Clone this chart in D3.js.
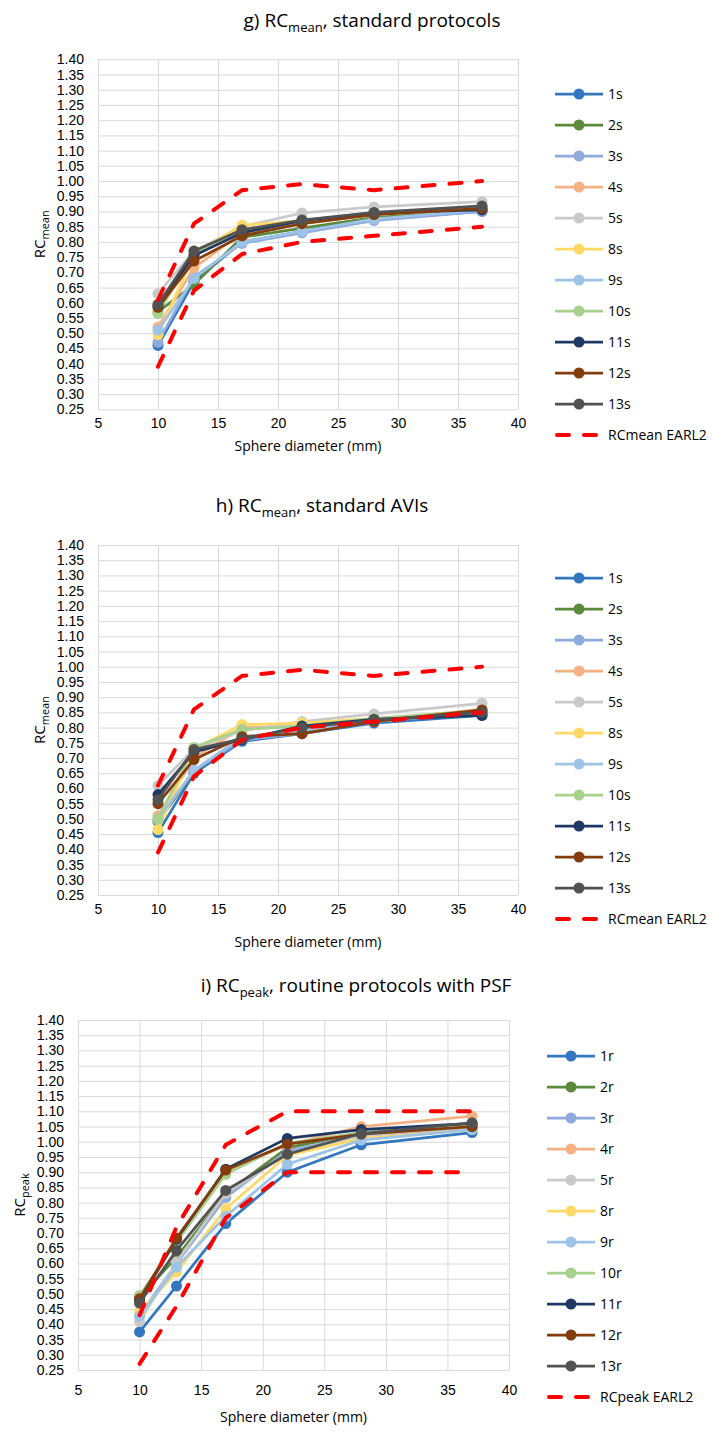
<!DOCTYPE html>
<html>
<head>
<meta charset="utf-8">
<script src="https://cdn.jsdelivr.net/npm/d3@7"></script>
<style>
  body { margin: 0; background: #fff; }
  svg { display: block; font-family: "Open Sans", "Noto Sans", sans-serif; }
  .grid line { stroke: #d9d9d9; stroke-width: 1; }
  .grid path { display: none; }
  .ticks path, .ticks line { display: none; }
  .ticks text { font-size: 14px; fill: #000; }
</style>
</head>
<body>
<div id="canvas-wrapper"></div>
<script>
// sphere diameters (mm) and axis ticks
var diameters = [10, 13, 17, 22, 28, 37];
var xTicks = [5, 10, 15, 20, 25, 30, 35, 40];
var yTicks = [0.25, 0.30, 0.35, 0.40, 0.45, 0.50, 0.55, 0.60, 0.65, 0.70, 0.75, 0.80,
              0.85, 0.90, 0.95, 1.00, 1.05, 1.10, 1.15, 1.20, 1.25, 1.30, 1.35, 1.40];

var standardNames = ["1s", "2s", "3s", "4s", "5s", "8s", "9s", "10s", "11s", "12s", "13s"];
var routineNames  = ["1r", "2r", "3r", "4r", "5r", "8r", "9r", "10r", "11r", "12r", "13r"];
var seriesColors = ["#3277c0", "#5b8a3a", "#8faadc", "#f4b183", "#c9c9c9", "#ffd966",
                    "#9dc3e6", "#a9d18e", "#203864", "#843c0c", "#525252"];

// g) RCmean, standard protocols
var rcMeanProtocols = [
  [0.46, 0.67, 0.80, 0.835, 0.875, 0.90],
  [0.57, 0.66, 0.815, 0.845, 0.88, 0.905],
  [0.47, 0.685, 0.795, 0.83, 0.87, 0.90],
  [0.52, 0.715, 0.83, 0.86, 0.89, 0.91],
  [0.63, 0.77, 0.85, 0.895, 0.915, 0.932],
  [0.495, 0.76, 0.855, 0.87, 0.89, 0.915],
  [0.51, 0.68, 0.80, 0.835, 0.875, 0.905],
  [0.565, 0.765, 0.835, 0.865, 0.89, 0.915],
  [0.59, 0.755, 0.83, 0.87, 0.895, 0.905],
  [0.585, 0.737, 0.82, 0.86, 0.89, 0.91],
  [0.595, 0.77, 0.84, 0.872, 0.897, 0.918]
];

// h) RCmean, standard AVIs
var rcMeanAvis = [
  [0.455, 0.65, 0.755, 0.78, 0.815, 0.84],
  [0.49, 0.655, 0.77, 0.79, 0.825, 0.85],
  [0.495, 0.658, 0.76, 0.78, 0.82, 0.85],
  [0.51, 0.70, 0.80, 0.805, 0.825, 0.86],
  [0.61, 0.73, 0.79, 0.82, 0.845, 0.88],
  [0.465, 0.73, 0.81, 0.815, 0.83, 0.855],
  [0.50, 0.66, 0.77, 0.79, 0.82, 0.85],
  [0.50, 0.735, 0.794, 0.805, 0.83, 0.855],
  [0.58, 0.72, 0.76, 0.805, 0.827, 0.84],
  [0.55, 0.695, 0.77, 0.78, 0.82, 0.858],
  [0.563, 0.728, 0.763, 0.80, 0.825, 0.85]
];

// i) RCpeak, routine protocols with PSF
var rcPeakRoutine = [
  [0.375, 0.526, 0.731, 0.90, 0.99, 1.03],
  [0.49, 0.62, 0.83, 0.98, 1.03, 1.05],
  [0.43, 0.60, 0.817, 0.97, 1.02, 1.045],
  [0.47, 0.68, 0.90, 0.99, 1.05, 1.084],
  [0.41, 0.605, 0.83, 0.96, 1.02, 1.05],
  [0.44, 0.572, 0.78, 0.955, 1.01, 1.04],
  [0.427, 0.588, 0.755, 0.926, 1.005, 1.04],
  [0.495, 0.67, 0.893, 0.995, 1.03, 1.055],
  [0.48, 0.68, 0.91, 1.011, 1.04, 1.06],
  [0.484, 0.684, 0.907, 0.992, 1.025, 1.05],
  [0.47, 0.643, 0.84, 0.959, 1.027, 1.062]
];

// EARL2 limits
var earlMeanLow  = [0.39, 0.64, 0.76, 0.80, 0.82, 0.85];
var earlMeanHigh = [0.61, 0.86, 0.97, 0.99, 0.97, 1.00];
var earlPeakLow  = [0.27, 0.46, 0.75, 0.90, 0.90, 0.90];
var earlPeakHigh = [0.43, 0.72, 0.99, 1.10, 1.10, 1.10];

var svg = d3.select("#canvas-wrapper").append("svg")
    .attr("width", 713)
    .attr("height", 1432);

var panels = [
  { title: ["g) RC", "mean", ", standard protocols"], sub: "mean", names: standardNames,
    values: rcMeanProtocols, low: earlMeanLow, high: earlMeanHigh, earl: "RCmean EARL2",
    left: 98, right: 518, top: 59.3, bottom: 409.3, titleX: 372, titleY: 27, yTitleX: 45,
    xPad: 9, xTitleDy: 42, legX: 555, legY: 94 },
  { title: ["h) RC", "mean", ", standard AVIs"], sub: "mean", names: standardNames,
    values: rcMeanAvis, low: earlMeanLow, high: earlMeanHigh, earl: "RCmean EARL2",
    left: 98, right: 518, top: 545, bottom: 895, titleX: 322, titleY: 512, yTitleX: 45,
    xPad: 9, xTitleDy: 52, legX: 555, legY: 578 },
  { title: ["i) RC", "peak", ", routine protocols with PSF"], sub: "peak", names: routineNames,
    values: rcPeakRoutine, low: earlPeakLow, high: earlPeakHigh, earl: "RCpeak EARL2",
    left: 78, right: 509, top: 1020, bottom: 1370, titleX: 356, titleY: 992, yTitleX: 25,
    xPad: 15, xTitleDy: 52, legX: 547, legY: 1056 }
];

panels.forEach(function(p) {
  var x = d3.scaleLinear().domain([5, 40]).range([p.left, p.right]);
  var y = d3.scaleLinear().domain([0.25, 1.40]).range([p.bottom, p.top]);
  var w = p.right - p.left, h = p.bottom - p.top;

  // title
  var t = svg.append("text")
      .attr("x", p.titleX).attr("y", p.titleY)
      .attr("text-anchor", "middle")
      .style("font-size", "19px");
  t.append("tspan").text(p.title[0]);
  t.append("tspan").attr("dy", 5).style("font-size", "13px").text(p.title[1]);
  t.append("tspan").attr("dy", -5).text(p.title[2]);

  // gridlines
  svg.append("g")
      .attr("class", "grid")
      .attr("transform", "translate(0," + p.bottom + ")")
      .call(d3.axisBottom(x).tickValues(xTicks).tickSize(-h).tickFormat(""));
  svg.append("g")
      .attr("class", "grid")
      .attr("transform", "translate(" + p.left + ",0)")
      .call(d3.axisLeft(y).tickValues(yTicks).tickSize(-w).tickFormat(""));

  // tick labels
  svg.append("g")
      .attr("class", "ticks")
      .attr("transform", "translate(0," + p.bottom + ")")
      .call(d3.axisBottom(x).tickValues(xTicks).tickSize(0).tickPadding(p.xPad));
  svg.append("g")
      .attr("class", "ticks")
      .attr("transform", "translate(" + p.left + ",0)")
      .call(d3.axisLeft(y).tickValues(yTicks).tickSize(0).tickPadding(14).tickFormat(d3.format(".2f")));

  // axis titles
  svg.append("text")
      .attr("x", p.left + w / 2).attr("y", p.bottom + p.xTitleDy)
      .attr("text-anchor", "middle")
      .style("font-size", "14px")
      .text("Sphere diameter (mm)");
  var yt = svg.append("text")
      .attr("transform", "translate(" + p.yTitleX + "," + (p.top + h / 2) + ") rotate(-90)")
      .attr("text-anchor", "middle")
      .style("font-size", "15px");
  yt.append("tspan").text("RC");
  yt.append("tspan").attr("dy", 4).style("font-size", "11px").text(p.sub);

  var line = d3.line()
      .x(function(d, i) { return x(diameters[i]); })
      .y(function(d) { return y(d); });

  // series
  p.values.forEach(function(vals, k) {
    svg.append("path")
        .datum(vals)
        .attr("d", line)
        .attr("fill", "none")
        .attr("stroke", seriesColors[k])
        .attr("stroke-width", 2.75);
    svg.append("g").selectAll("circle")
        .data(vals)
      .enter().append("circle")
        .attr("cx", function(d, i) { return x(diameters[i]); })
        .attr("cy", function(d) { return y(d); })
        .attr("r", 5.5)
        .attr("fill", seriesColors[k]);
  });

  // EARL2 limits
  [p.low, p.high].forEach(function(lim) {
    svg.append("path")
        .datum(lim)
        .attr("d", line)
        .attr("fill", "none")
        .attr("stroke", "#ff0000")
        .attr("stroke-width", 4)
        .attr("stroke-linecap", "round")
        .attr("stroke-dasharray", "12,15");
  });

  // legend
  var leg = svg.append("g");
  p.names.forEach(function(name, k) {
    var ly = p.legY + k * 31;
    leg.append("line")
        .attr("x1", p.legX).attr("x2", p.legX + 48)
        .attr("y1", ly).attr("y2", ly)
        .attr("stroke", seriesColors[k]).attr("stroke-width", 2.75);
    leg.append("circle")
        .attr("cx", p.legX + 24).attr("cy", ly).attr("r", 5.5)
        .attr("fill", seriesColors[k]);
    leg.append("text")
        .attr("x", p.legX + 53).attr("y", ly + 5)
        .style("font-size", "14px")
        .text(name);
  });
  var ey = p.legY + p.names.length * 31;
  leg.append("line")
      .attr("x1", p.legX + 2).attr("x2", p.legX + 44)
      .attr("y1", ey).attr("y2", ey)
      .attr("stroke", "#ff0000").attr("stroke-width", 4)
      .attr("stroke-linecap", "round")
      .attr("stroke-dasharray", "12,15");
  leg.append("text")
      .attr("x", p.legX + 53).attr("y", ey + 5)
      .style("font-size", "14px")
      .text(p.earl);
});
</script>
</body>
</html>
